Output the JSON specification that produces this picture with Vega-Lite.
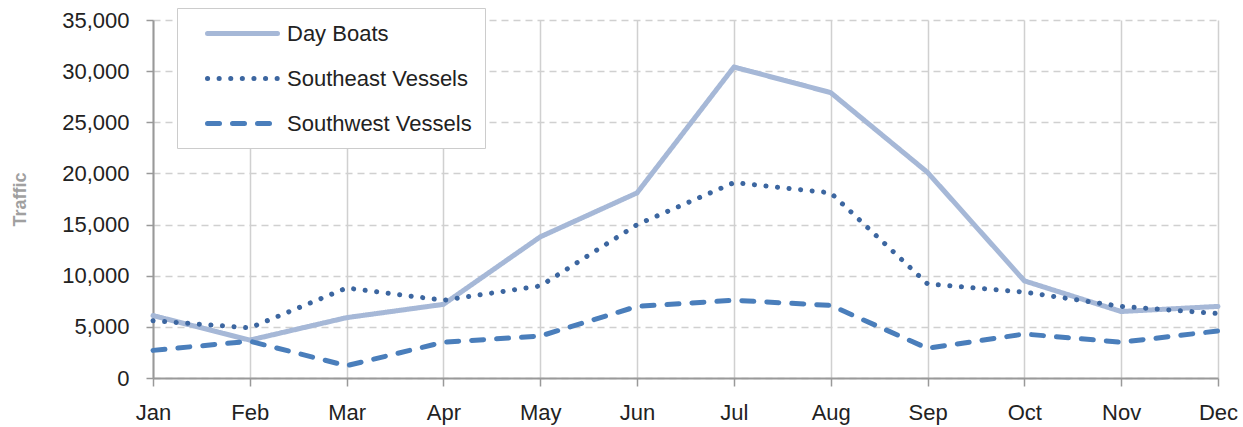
{
  "$schema": "https://vega.github.io/schema/vega-lite/v6.json",
  "width": 1065,
  "height": 358,
  "autosize": "none",
  "padding": {"left": 153, "top": 20, "right": 25, "bottom": 49},
  "background": "white",
  "config": {
    "font": "Liberation Sans",
    "view": {"stroke": null}
  },
  "data": {"values": [
    {"m": "Jan", "s": "Day Boats", "v": 6100},
    {"m": "Feb", "s": "Day Boats", "v": 3700},
    {"m": "Mar", "s": "Day Boats", "v": 5900},
    {"m": "Apr", "s": "Day Boats", "v": 7200},
    {"m": "May", "s": "Day Boats", "v": 13800},
    {"m": "Jun", "s": "Day Boats", "v": 18100},
    {"m": "Jul", "s": "Day Boats", "v": 30400},
    {"m": "Aug", "s": "Day Boats", "v": 27900},
    {"m": "Sep", "s": "Day Boats", "v": 20100},
    {"m": "Oct", "s": "Day Boats", "v": 9500},
    {"m": "Nov", "s": "Day Boats", "v": 6500},
    {"m": "Dec", "s": "Day Boats", "v": 7000},
    {"m": "Jan", "s": "Southeast Vessels", "v": 5600},
    {"m": "Feb", "s": "Southeast Vessels", "v": 4900},
    {"m": "Mar", "s": "Southeast Vessels", "v": 8800},
    {"m": "Apr", "s": "Southeast Vessels", "v": 7600},
    {"m": "May", "s": "Southeast Vessels", "v": 9000},
    {"m": "Jun", "s": "Southeast Vessels", "v": 15000},
    {"m": "Jul", "s": "Southeast Vessels", "v": 19100},
    {"m": "Aug", "s": "Southeast Vessels", "v": 18100},
    {"m": "Sep", "s": "Southeast Vessels", "v": 9200},
    {"m": "Oct", "s": "Southeast Vessels", "v": 8400},
    {"m": "Nov", "s": "Southeast Vessels", "v": 7000},
    {"m": "Dec", "s": "Southeast Vessels", "v": 6300},
    {"m": "Jan", "s": "Southwest Vessels", "v": 2700},
    {"m": "Feb", "s": "Southwest Vessels", "v": 3600},
    {"m": "Mar", "s": "Southwest Vessels", "v": 1200},
    {"m": "Apr", "s": "Southwest Vessels", "v": 3500},
    {"m": "May", "s": "Southwest Vessels", "v": 4100},
    {"m": "Jun", "s": "Southwest Vessels", "v": 7000},
    {"m": "Jul", "s": "Southwest Vessels", "v": 7600},
    {"m": "Aug", "s": "Southwest Vessels", "v": 7100},
    {"m": "Sep", "s": "Southwest Vessels", "v": 2900},
    {"m": "Oct", "s": "Southwest Vessels", "v": 4300},
    {"m": "Nov", "s": "Southwest Vessels", "v": 3500},
    {"m": "Dec", "s": "Southwest Vessels", "v": 4600}
  ]},
  "mark": {"type": "line", "strokeCap": "round", "strokeJoin": "round"},
  "encoding": {
    "x": {
      "field": "m", "type": "ordinal",
      "sort": ["Jan","Feb","Mar","Apr","May","Jun","Jul","Aug","Sep","Oct","Nov","Dec"],
      "scale": {"type": "point", "padding": 0},
      "axis": {"title": null, "labelAngle": 0, "labelFontSize": 22, "labelColor": "#222222", "tickSize": 8, "tickColor": "#999999", "tickWidth": 1.5, "domainColor": "#999999", "domainWidth": 2, "labelPadding": 16, "grid": true, "gridColor": "#d0d0d0", "gridWidth": 1.5, "gridDash": []}
    },
    "y": {
      "field": "v", "type": "quantitative",
      "scale": {"domain": [0, 35000], "nice": false},
      "axis": {"title": "Traffic", "titleColor": "#a0a0a0", "titleFontSize": 18, "titleFontWeight": "bold", "titlePadding": 32, "values": [0,5000,10000,15000,20000,25000,30000,35000], "format": ",.0f", "labelFontSize": 22, "labelColor": "#222222", "tickSize": 7, "tickColor": "#999999", "tickWidth": 1.5, "domainColor": "#999999", "domainWidth": 2, "labelPadding": 17, "grid": true, "gridColor": "#d0d0d0", "gridWidth": 1.5, "gridDash": [7, 5]}
    },
    "color": {
      "field": "s", "type": "nominal",
      "scale": {"domain": ["Day Boats","Southeast Vessels","Southwest Vessels"], "range": ["#a6b8d7", "#3c66a0", "#4a7ebb"]},
      "legend": {
        "title": null, "orient": "none", "legendX": 24, "legendY": -12,
        "symbolType": "M-3.5,0H3.5", "symbolSize": 400, "symbolStrokeWidth": 5,
        "labelFontSize": 22, "labelColor": "#222222", "labelFont": "Liberation Sans", "labelLimit": 400,
        "rowPadding": 21, "padding": 13, "fillColor": "white", "strokeColor": "#cccccc",
        "symbolOffset": 40, "labelOffset": 32,
        "encode": {"symbols": {"update": {"strokeCap": {"value": "round"}}}}
      }
    },
    "strokeDash": {
      "field": "s", "type": "nominal",
      "scale": {"domain": ["Day Boats","Southeast Vessels","Southwest Vessels"], "range": [[1, 0], [0.1, 11.5], [12, 13]]},
      "legend": null
    },
    "strokeWidth": {
      "field": "s", "type": "nominal",
      "scale": {"domain": ["Day Boats","Southeast Vessels","Southwest Vessels"], "range": [5, 5, 5.5]},
      "legend": null
    }
  }
}
